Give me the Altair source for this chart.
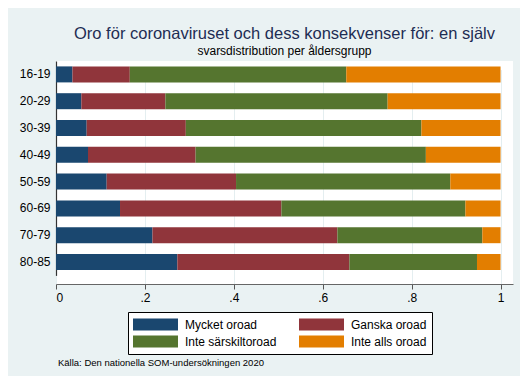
import altair as alt
import pandas as pd

groups = ["16-19", "20-29", "30-39", "40-49", "50-59", "60-69", "70-79", "80-85"]
categories = ["Mycket oroad", "Ganska oroad", "Inte särskiltoroad", "Inte alls oroad"]
colors = ["#1A476F", "#90353B", "#55752F", "#E37E00"]
mycket = [0.037, 0.057, 0.069, 0.072, 0.114, 0.144, 0.217, 0.273]
ganska = [0.129, 0.189, 0.223, 0.242, 0.291, 0.363, 0.416, 0.387]
inte_sarskilt = [0.487, 0.500, 0.530, 0.518, 0.482, 0.414, 0.326, 0.287]
inte_alls = [0.347, 0.254, 0.178, 0.168, 0.113, 0.079, 0.041, 0.053]
ticks = [0, 0.2, 0.4, 0.6, 0.8, 1]

series = [mycket, ganska, inte_sarskilt, inte_alls]
rows = []
for ci, (cat, vals) in enumerate(zip(categories, series)):
    for g, v in zip(groups, vals):
        rows.append({"grupp": g, "svar": cat, "andel": v, "ordning": ci})
df = pd.DataFrame(rows)

FONT = "Liberation Sans"

bars = alt.Chart(df).mark_bar(size=16).encode(
    y=alt.Y("grupp:N", sort=groups, title=None,
            scale=alt.Scale(range=[0, 214.4], paddingInner=0.4, paddingOuter=0.2),
            axis=alt.Axis(ticks=False, labelPadding=6, labelFontSize=12, labelColor="black",
                          labelFont=FONT, domainColor="#333333", domainWidth=1.2, grid=False)),
    x=alt.X("andel:Q", stack="zero", title=None,
            scale=alt.Scale(domain=[0, 1.028], nice=False, zero=True),
            axis=alt.Axis(values=ticks, labelFontSize=12, labelColor="black", labelFont=FONT,
                          labelExpr="datum.value == 0 ? '0' : datum.value == 1 ? '1' : replace(format(datum.value, '.1f'), '0.', '.')",
                          tickSize=5, tickColor="#555555", domainColor="#666666", domainWidth=1.2,
                          gridColor="#E4EEF0", gridWidth=1, labelPadding=3)),
    color=alt.Color("svar:N", sort=categories,
                    scale=alt.Scale(domain=categories, range=colors),
                    legend=alt.Legend(title=None, orient="none", legendX=72, legendY=251,
                                      direction="horizontal",
                                      columns=2, columnPadding=22, rowPadding=2,
                                      symbolType="M-1,-0.27H1V0.27H-1Z", symbolSize=2025,
                                      symbolStrokeWidth=0, symbolOpacity=1,
                                      clipHeight=15, labelFontSize=12, labelFont=FONT,
                                      labelColor="black", labelOffset=7,
                                      fillColor="white", strokeColor="black", padding=5,
                                      labelLimit=300)),
    order=alt.Order("ordning:Q"),
)

note = alt.Chart(pd.DataFrame({"t": ["Källa: Den nationella SOM-undersökningen 2020"]})).mark_text(
    align="left", baseline="middle", fontSize=9.5, font=FONT, color="black"
).encode(text="t:N", x=alt.value(2), y=alt.value(302))

chart = alt.layer(bars, note).properties(
    width=457, height=223,
    autosize=alt.AutoSizeParams(type="none"),
    padding={"left": 48, "top": 53, "right": 7, "bottom": 92},
    background="#EAF2F3",
    title=alt.TitleParams(
        text="Oro för coronaviruset och dess konsekvenser för: en själv",
        subtitle="svarsdistribution per åldersgrupp",
        anchor="middle", fontSize=16.5, font=FONT, fontWeight="normal", color="#1E2D53",
        subtitleFontSize=12, subtitleFont=FONT, subtitleColor="black", subtitlePadding=4,
        offset=4,
    ),
).configure_view(fill="white", stroke=None)

chart.save("out.html", embed_options={"renderer": "svg", "actions": False})
